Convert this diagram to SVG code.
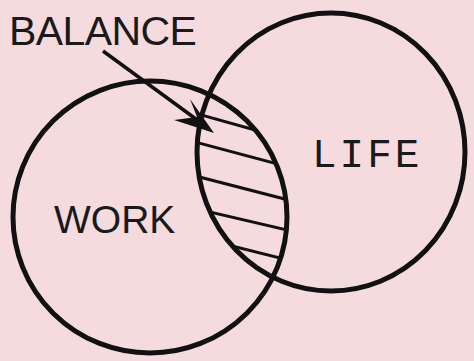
<svg xmlns="http://www.w3.org/2000/svg" width="474" height="361" viewBox="0 0 474 361">
<style>
.ring{fill:none;stroke:#111;stroke-width:5}
.hatch{stroke:#111;stroke-width:3}
.lbl{fill:#1a1a1a;font-family:"Liberation Sans",Arial,sans-serif}
</style>
<defs>
<clipPath id="cL"><ellipse cx="150" cy="217" rx="137" ry="136"/></clipPath>
<clipPath id="cR"><ellipse cx="331" cy="152" rx="134" ry="139"/></clipPath>
</defs>
<rect width="474" height="361" fill="#f5dade"/>
<g id="balance-hatch" clip-path="url(#cL)">
<g clip-path="url(#cR)">
<line class="hatch" x1="180" y1="109" x2="280" y2="137"/>
<line class="hatch" x1="180" y1="138" x2="300" y2="170"/>
<line class="hatch" x1="180" y1="172" x2="300" y2="203"/>
<line class="hatch" x1="180" y1="205" x2="300" y2="233"/>
<line class="hatch" x1="200" y1="238" x2="300" y2="263"/>
</g>
</g>
<g id="work">
<ellipse class="ring" cx="150" cy="217" rx="137" ry="136"/>
<text class="lbl" x="54" y="233" font-size="39">WORK</text>
</g>
<g id="life">
<ellipse class="ring" cx="331" cy="152" rx="134" ry="139"/>
<text x="312" y="167" font-size="41" fill="#1a1a1a" font-family="'Liberation Mono','DejaVu Sans Mono',monospace" letter-spacing="3">LIFE</text>
</g>
<g id="balance">
<text class="lbl" x="9" y="45" font-size="41" letter-spacing="-0.6">BALANCE</text>
</g>
<g id="connectors">
<line x1="103" y1="51" x2="200" y2="122" stroke="#111" stroke-width="3.5"/>
<polygon points="214,133 190,99 197,117 174,120" fill="#111"/>
</g>
</svg>
